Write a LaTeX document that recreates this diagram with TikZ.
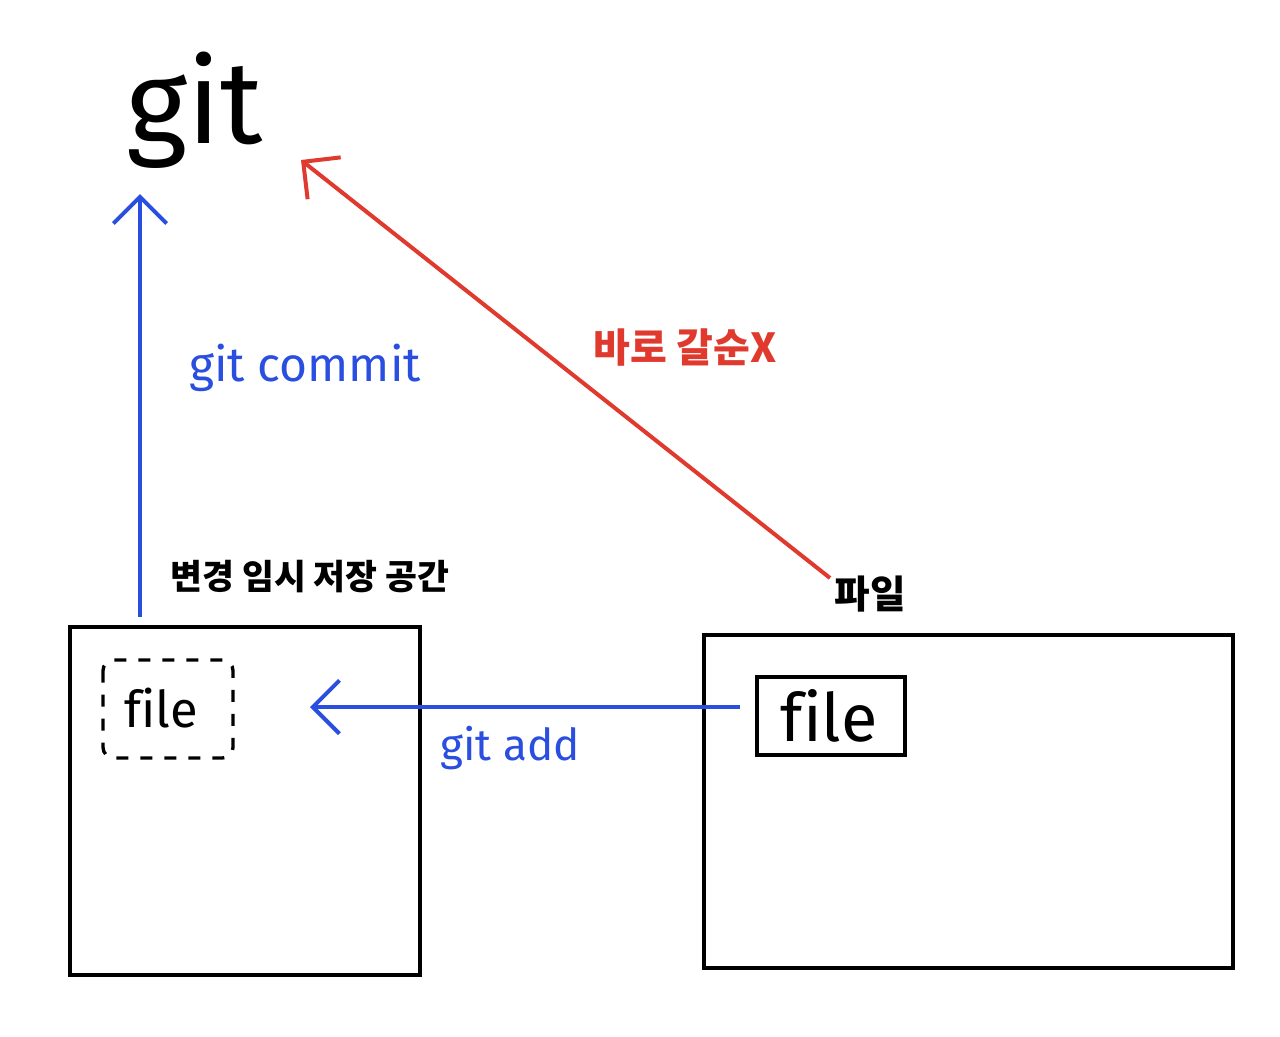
\documentclass[tikz,border=0pt]{standalone}
\usepackage{fontspec}
\setmainfont[Ligatures=NoCommon]{Fira Sans}
\newfontfamily\krfont{Noto Sans CJK KR}
\usetikzlibrary{arrows.meta}
\definecolor{pen}{HTML}{2A4FE0}
\definecolor{redpen}{HTML}{E0392D}
\tikzset{
  box/.style={draw=black, line width=3.5pt},
  harrow/.style={line width=3pt, -{Straight Barb[length=20pt,width=40pt,line width=3pt]}},
  lbl/.style={inner sep=0pt, anchor=center},
}
\begin{document}
\begin{tikzpicture}[x=0.75pt,y=-0.75pt]
\useasboundingbox[fill=white] (0,0) rectangle (1280,1036);
% boxes
\draw[box] (70,627) rectangle (420,975);
\draw[box] (704,635) rectangle (1233,968);
\node[box, line width=3pt, minimum width=111pt, minimum height=58pt, inner sep=0pt] (filebox) at (831,716) {};
\node[lbl, font=\fontsize{50}{50}\selectfont] (filetxt) at (829,716) {file};
\draw[line width=2.5pt, dash pattern=on 9pt off 9pt, rounded corners=8pt] (103,660) rectangle (233,758);
\node[lbl, font=\fontsize{38}{38}\selectfont] (stagefile) at (161,708) {file};
% texts
\node[lbl, font=\fontsize{88}{88}\selectfont] (git) at (195,110) {git};
\node[lbl, font=\fontsize{36}{36}\selectfont, text=pen] (commit) at (305,368) {git commit};
\node[lbl, font=\fontsize{33}{33}\selectfont, text=pen] (add) at (510,748) {git add};
\node[lbl, font=\krfont\bfseries\fontsize{30}{30}\selectfont, text=redpen] (direct) at (685,348) {바로 갈순X};
\node[lbl, font=\krfont\bfseries\fontsize{26}{26}\selectfont] (stagelbl) at (310,577) {변경 임시 저장 공간};
\node[lbl, font=\krfont\bfseries\fontsize{29}{29}\selectfont] (filelbl) at (870,594) {파일};
% connector ends
\coordinate (commitStart) at (140,617);
\coordinate (commitEnd) at (140,194);
\coordinate (directStart) at (830,578);
\coordinate (directEnd) at (301,160);
\coordinate (addStart) at (740,707);
\coordinate (addEnd) at (310,707);
% arrows
\draw[harrow, pen] (commitStart) -- (commitEnd);
\draw[harrow, redpen] (directStart) -- (directEnd);
\draw[harrow, pen] (addStart) -- (addEnd);
\end{tikzpicture}
\end{document}
